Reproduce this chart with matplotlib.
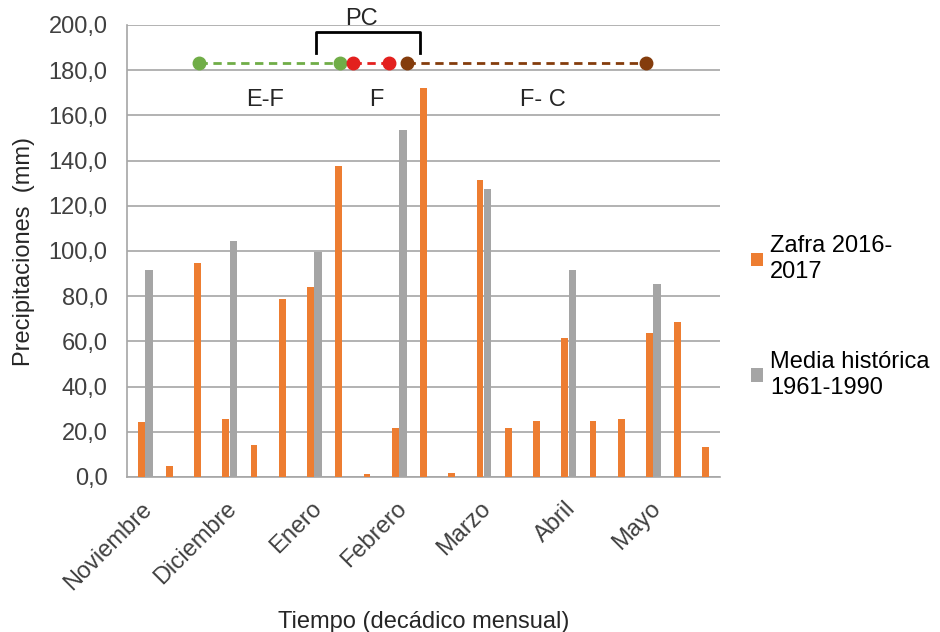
import numpy as np
import matplotlib
matplotlib.use("Agg")
import matplotlib.pyplot as plt

plt.rcParams['font.family'] = ['Liberation Sans', 'DejaVu Sans']

# decadal rainfall, Nov to May (3 decades per month)
months = ["Noviembre", "Diciembre", "Enero", "Febrero", "Marzo", "Abril", "Mayo"]
zafra = [24.2, 5.0, 94.5, 25.7, 14.2, 78.6, 83.9, 137.6, 1.2, 21.8, 172.0,
         1.8, 131.4, 21.8, 24.9, 61.6, 24.9, 25.7, 63.9, 68.4, 13.3]
# historical mean only shown on first decade of each month
media = [91.5, np.nan, np.nan, 104.6, np.nan, np.nan, 99.6, np.nan, np.nan,
         153.5, np.nan, np.nan, 127.4, np.nan, np.nan, 91.5, np.nan, np.nan,
         85.4, np.nan, np.nan]

# crop phases drawn above the bars (start/end in decade index)
phase_names = ["E-F", "F", "F- C"]
phase_start = [2.04, 7.51, 9.40]
phase_end = [7.03, 8.79, 17.88]
phase_colors = ["#70AD47", "#E3201E", "#843C0C"]
phase_label_x = [4.39, 8.34, 14.23]
phase_y = 183.3

c_orange = "#ED7D31"
c_gray = "#A5A5A5"
fs = 17

x = np.arange(len(zafra))

fig = plt.figure(figsize=(9.4, 6.32), dpi=100)
ax = fig.add_axes([127/940, 1 - 477/632, (720 - 127)/940, (477 - 25)/632])

ax.bar(x, zafra, width=0.24, color=c_orange, label="Zafra 2016-\n2017", zorder=3)
ax.bar(x + 0.27, media, width=0.27, color=c_gray, label="Media histórica\n1961-1990", zorder=3)

ax.set_xlim(-0.5, len(zafra) - 0.5)
ax.set_ylim(0, 200)
ax.set_yticks(np.arange(0, 201, 20))
ax.set_yticklabels([f"{v:.1f}".replace(".", ",") for v in np.arange(0, 201, 20)], fontsize=fs, color="#404040")
ax.set_xticks(x[::3])
ax.set_xticklabels(months, rotation=45, ha="right", rotation_mode="anchor", fontsize=fs, color="#404040")
ax.tick_params(axis="y", length=0, pad=14)
ax.tick_params(axis="x", length=0, pad=15)
ax.grid(axis="y", color="#A6A6A6", linewidth=1.2, zorder=0)
for s in ["top", "right"]:
    ax.spines[s].set_visible(False)
for s in ["left", "bottom"]:
    ax.spines[s].set_color("#A6A6A6")
    ax.spines[s].set_linewidth(1.2)

ax.set_ylabel("Precipitaciones  (mm)", fontsize=fs, color="#262626", labelpad=10)
ax.set_xlabel("Tiempo (decádico mensual)", fontsize=fs, color="#262626", labelpad=12)

# phase lines
for s, e, c, name, lx in zip(phase_start, phase_end, phase_colors, phase_names, phase_label_x):
    ax.plot([s, e], [phase_y, phase_y], color=c, linestyle=(0, (3, 2)), linewidth=2,
            marker="o", markersize=9, zorder=5, clip_on=False)
    ax.text(lx, 167, name, ha="center", va="center", fontsize=fs, color="#262626")

# PC bracket
ax.plot([6.2, 6.2, 9.88, 9.88], [187.5, 196.8, 196.8, 187.5], color="black", linewidth=2,
        clip_on=False, zorder=6)
ax.text(7.81, 202.5, "PC", ha="center", va="center", fontsize=fs, color="#262626")

ax.legend(loc="upper left", bbox_to_anchor=(742/940, 1 - 226/632), bbox_transform=fig.transFigure,
          frameon=False, fontsize=fs, handlelength=0.5, handleheight=0.5, handletextpad=0.3,
          labelspacing=2.9, borderaxespad=0)

fig.savefig("out.png", dpi=100)
